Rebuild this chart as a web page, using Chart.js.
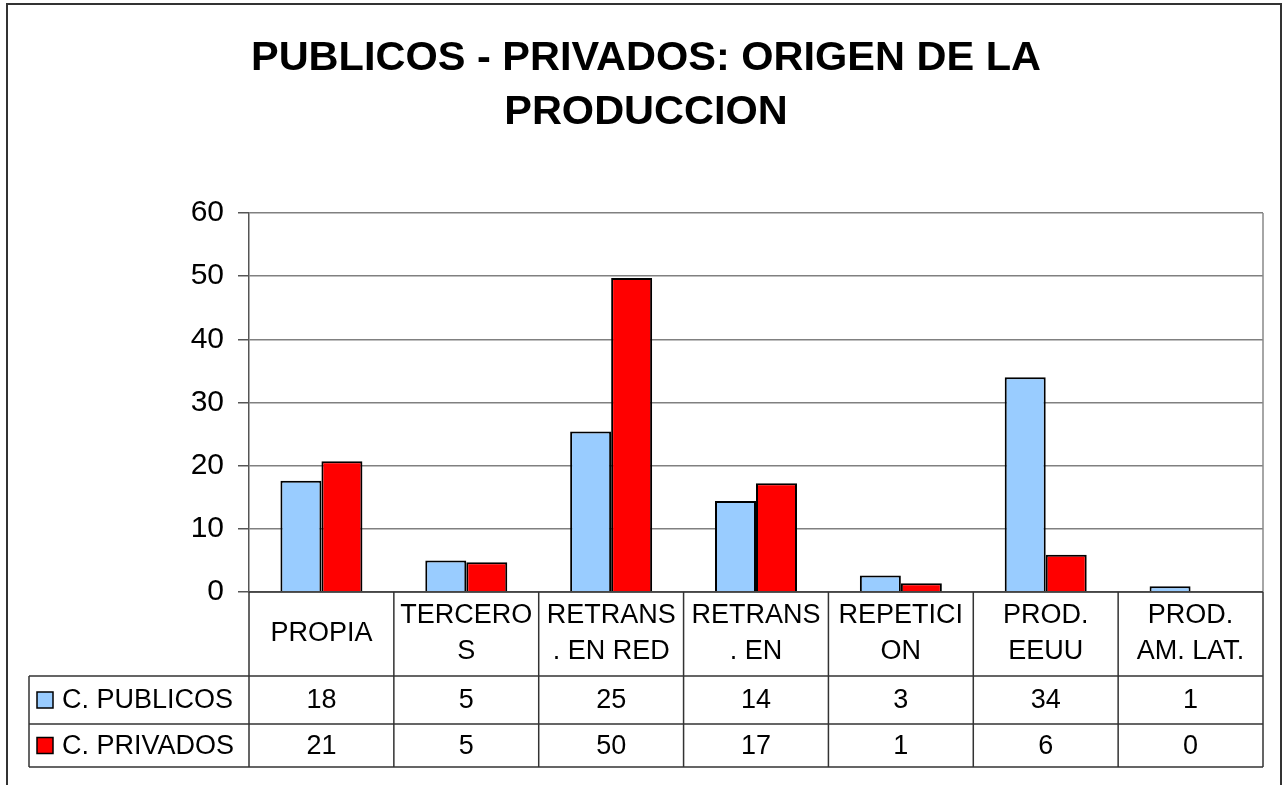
<!DOCTYPE html>
<html>
<head>
<meta charset="utf-8">
<title>PUBLICOS - PRIVADOS: ORIGEN DE LA PRODUCCION</title>
<script src="https://cdn.jsdelivr.net/npm/chart.js@4.4.1/dist/chart.umd.min.js"></script>
<style>
  html, body { margin: 0; padding: 0; background: #fff; }
  #wrap { width: 1285px; height: 785px; }
</style>
</head>
<body>
<div id="wrap"><canvas id="myChart" width="1285" height="785"></canvas></div>
<script>
// categories as shown in the data table (Excel wraps them)
const categories = ['PROPIA', 'TERCEROS', 'RETRANS. EN RED', 'RETRANS. EN', 'REPETICION', 'PROD. EEUU', 'PROD. AM. LAT.'];
const categoryLines = [
	['PROPIA'],
	['TERCERO', 'S'],
	['RETRANS', '. EN RED'],
	['RETRANS', '. EN'],
	['REPETICI', 'ON'],
	['PROD.', 'EEUU'],
	['PROD.', 'AM. LAT.']
];
const seriesNames = ['C. PUBLICOS', 'C. PRIVADOS'];
const publicos = [17.6, 5.0, 25.4, 14.4, 2.6, 34.0, 0.9];
const privados = [20.7, 4.7, 49.7, 17.2, 1.4, 5.9, 0];
const yTicks = [0, 10, 20, 30, 40, 50, 60];

const colBlue = '#99CCFF';
const colRed = '#FF0000';
const fontFam = '"Liberation Sans", Arial, Helvetica, sans-serif';

// frame + data table under the plot
const tablePlugin = {
	id: 'dataTable',
	beforeDraw: function(chart) {
		const ctx = chart.ctx;
		ctx.save();
		ctx.fillStyle = '#fff';
		ctx.fillRect(0, 0, chart.width, chart.height);
		ctx.strokeStyle = '#333';
		ctx.lineWidth = 2;
		ctx.beginPath();
		ctx.moveTo(7, 800);
		ctx.lineTo(7, 4);
		ctx.lineTo(1281, 4);
		ctx.lineTo(1281, 800);
		ctx.stroke();
		ctx.restore();
	},
	afterDraw: function(chart) {
		const ctx = chart.ctx;
		const area = chart.chartArea;
		const xs = chart.scales.x;
		const half = (xs.getPixelForValue(1) - xs.getPixelForValue(0)) / 2;
		const rowTop = area.bottom;
		const rowHead = 676, row1 = 724, row2 = 767;
		const legLeft = 29;

		ctx.save();
		// right border of the plot
		ctx.strokeStyle = '#888';
		ctx.lineWidth = 1.5;
		ctx.beginPath();
		ctx.moveTo(area.right, area.top);
		ctx.lineTo(area.right, rowTop);
		ctx.stroke();

		ctx.strokeStyle = '#333';
		ctx.lineWidth = 1.5;
		ctx.beginPath();
		// axis baseline
		ctx.moveTo(area.left, rowTop);
		ctx.lineTo(area.right, rowTop);
		[rowHead, row1, row2].forEach(function(y) {
			ctx.moveTo(legLeft, y);
			ctx.lineTo(area.right, y);
		});
		ctx.moveTo(legLeft, rowHead);
		ctx.lineTo(legLeft, row2);
		ctx.moveTo(area.left, rowTop);
		ctx.lineTo(area.left, row2);
		for (let i = 0; i < categories.length; i++) {
			const xr = xs.getPixelForValue(i) + half;
			ctx.moveTo(xr, rowTop);
			ctx.lineTo(xr, row2);
		}
		ctx.stroke();

		ctx.fillStyle = '#000';
		ctx.font = '27px ' + fontFam;
		ctx.textAlign = 'center';
		ctx.textBaseline = 'middle';
		const headMid = (rowTop + rowHead) / 2;
		categoryLines.forEach(function(lines, i) {
			const cx = xs.getPixelForValue(i);
			if (lines.length === 1) {
				ctx.fillText(lines[0], cx, headMid);
			} else {
				ctx.fillText(lines[0], cx, headMid - 18);
				ctx.fillText(lines[1], cx, headMid + 18);
			}
		});

		const rows = [
			{ name: seriesNames[0], data: publicos, color: colBlue, y: (rowHead + row1) / 2 },
			{ name: seriesNames[1], data: privados, color: colRed, y: (row1 + row2) / 2 }
		];
		rows.forEach(function(r) {
			ctx.textAlign = 'center';
			r.data.forEach(function(v, i) {
				ctx.fillText(Math.round(v), xs.getPixelForValue(i), r.y + 1);
			});
			ctx.fillStyle = r.color;
			ctx.fillRect(37, r.y - 8, 16, 16);
			ctx.strokeStyle = '#000';
			ctx.lineWidth = 1.5;
			ctx.strokeRect(37, r.y - 8, 16, 16);
			ctx.fillStyle = '#000';
			ctx.textAlign = 'left';
			ctx.fillText(r.name, 62, r.y + 1);
		});
		ctx.restore();
	}
};

const ctx = document.getElementById('myChart').getContext('2d');
const myChart = new Chart(ctx, {
	type: 'bar',
	data: {
		labels: categories,
		datasets: [{
			label: seriesNames[0],
			data: publicos,
			backgroundColor: colBlue,
			borderColor: '#000',
			borderWidth: 2
		}, {
			label: seriesNames[1],
			data: privados,
			backgroundColor: colRed,
			borderColor: '#000',
			borderWidth: 2
		}]
	},
	plugins: [tablePlugin],
	options: {
		responsive: false,
		animation: false,
		events: [],
		layout: {
			// left padding pushes the title centre right, like the original
			padding: { left: 29, top: 0, right: 22, bottom: 193 }
		},
		datasets: {
			bar: { categoryPercentage: 0.566, barPercentage: 1.0 }
		},
		scales: {
			x: { display: false },
			y: {
				min: 0,
				max: 60,
				afterFit: function(scale) { scale.width = 220; },
				afterBuildTicks: function(scale) {
					scale.ticks = yTicks.map(function(v) { return { value: v }; });
				},
				ticks: {
					color: '#000',
					padding: 14,
					font: { family: fontFam, size: 30 }
				},
				grid: {
					color: '#808080',
					lineWidth: 1.5,
					tickLength: 11,
					tickColor: '#555'
				},
				border: { color: '#555', width: 1.5 }
			}
		},
		plugins: {
			legend: { display: false },
			tooltip: { enabled: false },
			title: {
				display: true,
				text: ['PUBLICOS - PRIVADOS: ORIGEN DE LA', 'PRODUCCION'],
				color: '#000',
				font: { family: fontFam, size: 41.5, weight: 'bold', lineHeight: 1.3 },
				padding: { top: 32, bottom: 73 }
			}
		}
	}
});
</script>
</body>
</html>
